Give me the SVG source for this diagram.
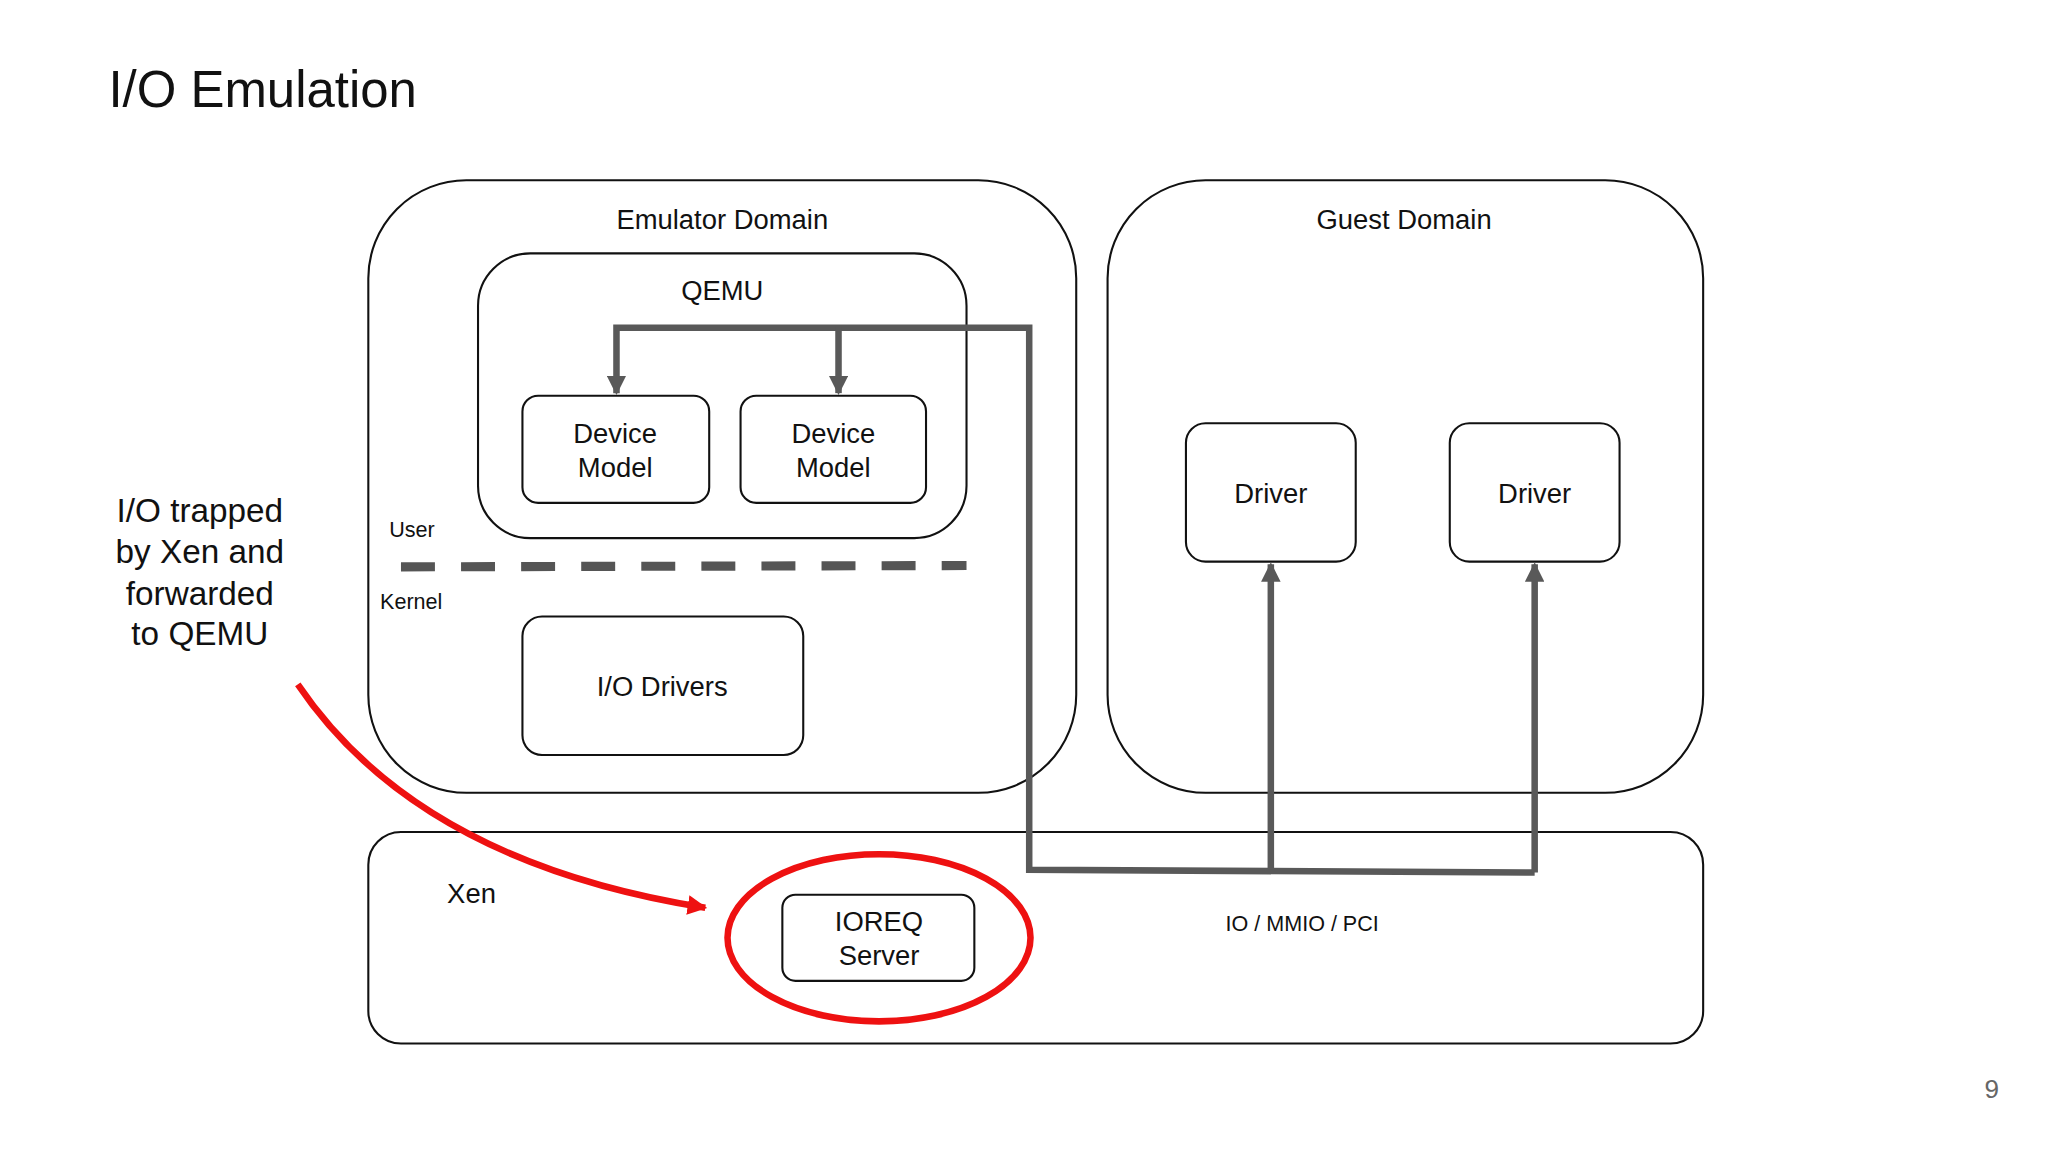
<svg xmlns="http://www.w3.org/2000/svg" width="2048" height="1152" viewBox="0 0 2048 1152">
<defs>
<marker id="ga" viewBox="0 0 10 10" refX="9" refY="5" markerWidth="3" markerHeight="3" orient="auto"><path d="M0,0L10,5L0,10z" fill="#595959"/></marker>
<marker id="ra" viewBox="0 0 10 10" refX="9" refY="5" markerWidth="3" markerHeight="3" orient="auto"><path d="M0,0L10,5L0,10z" fill="#ee1111"/></marker>
<style>
.b{fill:none;stroke:#111;stroke-width:1.6}
text{font-family:"Liberation Sans",Arial,sans-serif;fill:#111}
.c{text-anchor:middle;font-size:21px}
.s{font-size:16.5px}
.con{fill:none;stroke:#595959;stroke-width:5}
</style>
</defs>
<rect width="2048" height="1152" fill="#fff"/>
<g transform="scale(1.3061)">
<text x="83" y="82" font-size="39">I/O Emulation</text>
<g id="emulator"><rect class="b" x="282" y="138" width="542" height="469" rx="75"/><text class="c" x="553" y="175">Emulator Domain</text></g>
<g id="qemu"><rect class="b" x="366" y="194" width="374" height="218" rx="40"/><text class="c" x="553" y="230">QEMU</text></g>
<g id="dm1"><rect class="b" x="400" y="303" width="143" height="82" rx="12"/><text class="c" x="471" y="339">Device</text><text class="c" x="471" y="365">Model</text></g>
<g id="dm2"><rect class="b" x="567" y="303" width="142" height="82" rx="12"/><text class="c" x="638" y="339">Device</text><text class="c" x="638" y="365">Model</text></g>
<text class="s" x="298" y="411">User</text>
<text class="s" x="291" y="466">Kernel</text>
<line x1="307" y1="434" x2="740" y2="433" stroke="#555" stroke-width="7" stroke-dasharray="26,20"/>
<g id="iod"><rect class="b" x="400" y="472" width="215" height="106" rx="15"/><text class="c" x="507" y="533">I/O Drivers</text></g>
<g id="guest"><rect class="b" x="848" y="138" width="456" height="469" rx="75"/><text class="c" x="1075" y="175">Guest Domain</text></g>
<g id="drv1"><rect class="b" x="908" y="324" width="130" height="106" rx="15"/><text class="c" x="973" y="385">Driver</text></g>
<g id="drv2"><rect class="b" x="1110" y="324" width="130" height="106" rx="15"/><text class="c" x="1175" y="385">Driver</text></g>
<g id="xen"><rect class="b" x="282" y="637" width="1022" height="162" rx="25"/><text class="c" x="361" y="691">Xen</text><text class="s" x="997" y="713" text-anchor="middle">IO / MMIO / PCI</text></g>
<g id="ioreq"><rect class="b" x="599" y="685" width="147" height="66" rx="10"/><text class="c" x="673" y="713">IOREQ</text><text class="c" x="673" y="739">Server</text></g>
<ellipse cx="673" cy="718" rx="116" ry="64" fill="none" stroke="#ee1111" stroke-width="5"/>
<g id="connectors">
<path class="con" d="M1175,668L788,666L788,251L472,251L472,301" marker-end="url(#ga)"/>
<path class="con" d="M642,251L642,301" marker-end="url(#ga)"/>
<path class="con" d="M973,666L973,432" marker-end="url(#ga)"/>
<path class="con" d="M1175,668L1175,432" marker-end="url(#ga)"/>
<path d="M228,524Q320,660 540,695" fill="none" stroke="#ee1111" stroke-width="5" marker-end="url(#ra)"/>
</g>
<g font-size="25.5" text-anchor="middle"><text x="153" y="400">I/O trapped</text><text x="153" y="431">by Xen and</text><text x="153" y="463">forwarded</text><text x="153" y="494">to QEMU</text></g>
<text x="1525" y="841" font-size="20" text-anchor="middle" style="fill:#666">9</text>
</g>
</svg>
